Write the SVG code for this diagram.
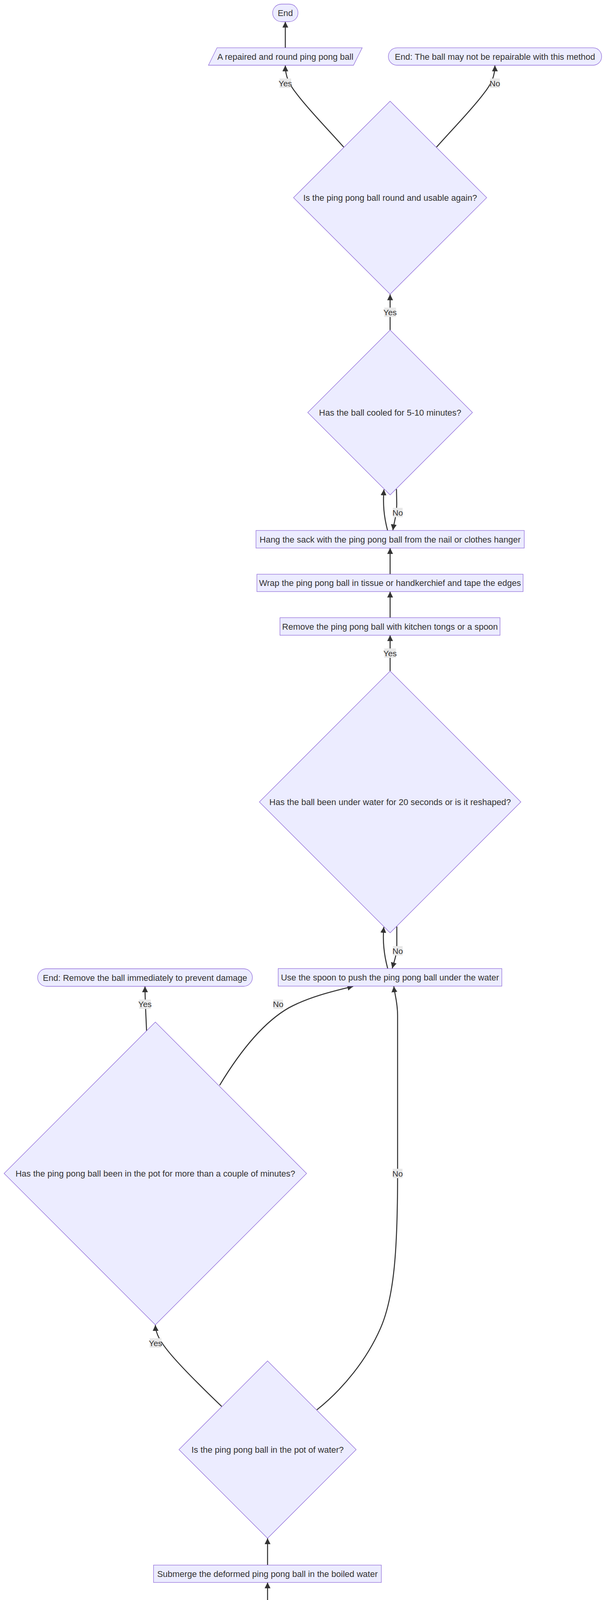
<svg xmlns="http://www.w3.org/2000/svg" width="1568" height="5082" viewBox="0 0 1568 5082">
<style>
.n rect,.n polygon{fill:#ECECFF;stroke:#9370DB;stroke-width:1.3}
.t{font-family:"Liberation Sans",Arial,sans-serif;font-size:22px;fill:#333;text-anchor:middle}
.e path{fill:none;stroke:#333;stroke-width:2.6;marker-end:url(#ah)}
.lb rect{fill:#e8e8e8}
.lb text{font-family:"Liberation Sans",Arial,sans-serif;font-size:21px;fill:#333;text-anchor:middle}
</style>
<defs>
<marker id="ah" viewBox="0 0 10 10" refX="10" refY="5" markerUnits="userSpaceOnUse" markerWidth="15" markerHeight="15" orient="auto"><path d="M0,0 L10,5 L0,10 z" fill="#333"/></marker>
</defs>
<rect width="1568" height="5082" fill="#fff"/>
<g id="edges" class="e">
<path d="M731,122.3 L731,55.5"/>
<path d="M880.7,376.7 C830,320 790,280 760,240 C740,215 731,195 731,167.5"/>
<path d="M1118.3,376.7 C1169,320 1209,280 1239,240 C1259,215 1268,195 1268,167.5"/>
<path d="M999.5,845 L999.5,753.5"/>
<path d="M993,1358 C983,1320 981,1290 983.7,1253"/>
<path d="M1015.8,1252 L1016.5,1290 C1016.5,1320 1010,1335 1006.6,1357.5"/>
<path d="M999.5,1470 L999.5,1403"/>
<path d="M999.5,1581.3 L999.5,1514.5"/>
<path d="M999.5,1718 L999.5,1626.3"/>
<path d="M993.3,2479.3 C984,2445 980,2410 983.3,2373"/>
<path d="M1016.7,2371.7 L1016.7,2420 C1016.7,2445 1010,2460 1005,2479"/>
<path d="M375.5,2639 C374,2600 371.5,2560 371.5,2525"/>
<path d="M562.7,2778.3 C610,2700 670,2620 740,2580 C790,2553 850,2538 905,2525"/>
<path d="M811.7,3609.3 C880,3555 940,3480 975,3400 C1010,3320 1018.7,3200 1018.7,3004 L1018.7,2600 C1018.7,2565 1011,2545 1009,2525"/>
<path d="M568,3600.5 C510,3545 470,3505 440,3470 S399,3415 398,3392"/>
<path d="M685.5,4006.6 L685.5,3938"/>
<path d="M685.5,4117.9 L685.5,4051"/>
<path d="M685.5,4254.5 L685.5,4162.2"/>
<path d="M587.2,4638.3 C587.2,4605 616,4543 632.7,4518.4"/>
<path d="M738.8,4518.4 C765,4570 784,4600 784,4640 L784,4685 C784,4715 770,4730 728,4749.5"/>
<path d="M646,4750 C620,4736 590,4722 588,4705 L587.2,4684"/>
<path d="M685.2,4862 L685.2,4795"/>
<path d="M685.2,4973.3 L685.2,4906.7"/>
</g>
<g id="labels" class="lb">
<g><rect x="716" y="201" width="30" height="24"/><text x="731" y="220.5">Yes</text></g>
<g><rect x="1255.5" y="201" width="25" height="24"/><text x="1268" y="220.5">No</text></g>
<g><rect x="984.5" y="787.5" width="30" height="24"/><text x="999.5" y="807">Yes</text></g>
<g><rect x="1006.5" y="1300" width="25" height="24"/><text x="1019" y="1319.5">No</text></g>
<g><rect x="984.5" y="1660" width="30" height="24"/><text x="999.5" y="1679.5">Yes</text></g>
<g><rect x="1006.5" y="2422" width="25" height="24"/><text x="1019" y="2441.5">No</text></g>
<g><rect x="356.5" y="2558.8" width="30" height="24"/><text x="371.5" y="2578.3">Yes</text></g>
<g><rect x="700.2" y="2558.8" width="25" height="24"/><text x="712.7" y="2578.3">No</text></g>
<g><rect x="1006.2" y="2992" width="25" height="24"/><text x="1018.7" y="3011.5">No</text></g>
<g><rect x="383.5" y="3426" width="30" height="24"/><text x="398.5" y="3445.5">Yes</text></g>
<g><rect x="670.2" y="4196.7" width="30" height="24"/><text x="685.2" y="4216.2">Yes</text></g>
<g><rect x="771.2" y="4649.7" width="25" height="24"/><text x="783.7" y="4669.2">No</text></g>
</g>
<g id="end" class="n"><rect x="698.5" y="10.5" width="65" height="45" rx="22.5"/><text class="t" x="731" y="41">End</text></g>
<g id="repaired" class="n"><polygon points="556,122.3 928,122.3 905.7,167 534,167"/><text class="t" x="731" y="152.5">A repaired and round ping pong ball</text></g>
<g id="endNotRepairable" class="n"><rect x="995" y="122.3" width="546.5" height="44.7" rx="22.35"/><text class="t" x="1268.2" y="152.5">End: The ball may not be repairable with this method</text></g>
<g id="roundUsable" class="n"><polygon points="999.5,259 1247,506 999.5,753 752,506"/><text class="t" x="999.5" y="514">Is the ping pong ball round and usable again?</text></g>
<g id="cooled" class="n"><polygon points="999.5,845 1210.5,1056 999.5,1267 788.5,1056"/><text class="t" x="999.5" y="1064">Has the ball cooled for 5-10 minutes?</text></g>
<g id="hang" class="n"><rect x="655.8" y="1358" width="687.4" height="45"/><text class="t" x="999.5" y="1388.5">Hang the sack with the ping pong ball from the nail or clothes hanger</text></g>
<g id="wrap" class="n"><rect x="658.2" y="1470" width="682" height="44.5"/><text class="t" x="999.2" y="1500.3">Wrap the ping pong ball in tissue or handkerchief and tape the edges</text></g>
<g id="remove" class="n"><rect x="717.3" y="1581.3" width="563.8" height="45"/><text class="t" x="999.2" y="1611.8">Remove the ping pong ball with kitchen tongs or a spoon</text></g>
<g id="underWater" class="n"><polygon points="999.5,1718 1334.5,2053 999.5,2388 664.5,2053"/><text class="t" x="999.5" y="2061">Has the ball been under water for 20 seconds or is it reshaped?</text></g>
<g id="spoon" class="n"><rect x="712.7" y="2479.5" width="573" height="45"/><text class="t" x="999.2" y="2510">Use the spoon to push the ping pong ball under the water</text></g>
<g id="endRemove" class="n"><rect x="96.4" y="2480" width="550.3" height="45" rx="22.5"/><text class="t" x="371.5" y="2510.5">End: Remove the ball immediately to prevent damage</text></g>
<g id="inPotLong" class="n"><polygon points="398,2616.5 785.5,3004 398,3391.5 10.5,3004"/><text class="t" x="398" y="3012">Has the ping pong ball been in the pot for more than a couple of minutes?</text></g>
<g id="inPot" class="n"><polygon points="685.5,3484 912.5,3711 685.5,3938 458.5,3711"/><text class="t" x="685.5" y="3719">Is the ping pong ball in the pot of water?</text></g>
<g id="submerge" class="n"><rect x="393.4" y="4006.6" width="583.6" height="44.5"/><text class="t" x="685.2" y="4036.8">Submerge the deformed ping pong ball in the boiled water</text></g>
<g id="transfer" class="n"><rect x="469.4" y="4117.9" width="432.1" height="44.3"/><text class="t" x="685.5" y="4148">Transfer boiled water into the ceramic cup</text></g>
<g id="boiledQ" class="n"><polygon points="685.5,4254.5 844,4413 685.5,4571.5 527,4413"/><text class="t" x="685.5" y="4421">Is the pot of water boiled?</text></g>
<g id="boiledReady" class="n"><rect x="449.5" y="4638.3" width="275" height="45.4"/><text class="t" x="587" y="4669">Boiled water ready for use</text></g>
<g id="place" class="n"><rect x="528.3" y="4750" width="314" height="45"/><text class="t" x="685.3" y="4780.5">Place the pot on a heat source</text></g>
<g id="fill" class="n"><rect x="548.3" y="4862" width="274" height="44.7"/><text class="t" x="685.3" y="4892.7">Fill a small pot with water</text></g>
<g id="start" class="n"><rect x="646.3" y="4973.3" width="77.7" height="45" rx="22.5"/><text class="t" x="685.2" y="5004">Start</text></g>
</svg>
